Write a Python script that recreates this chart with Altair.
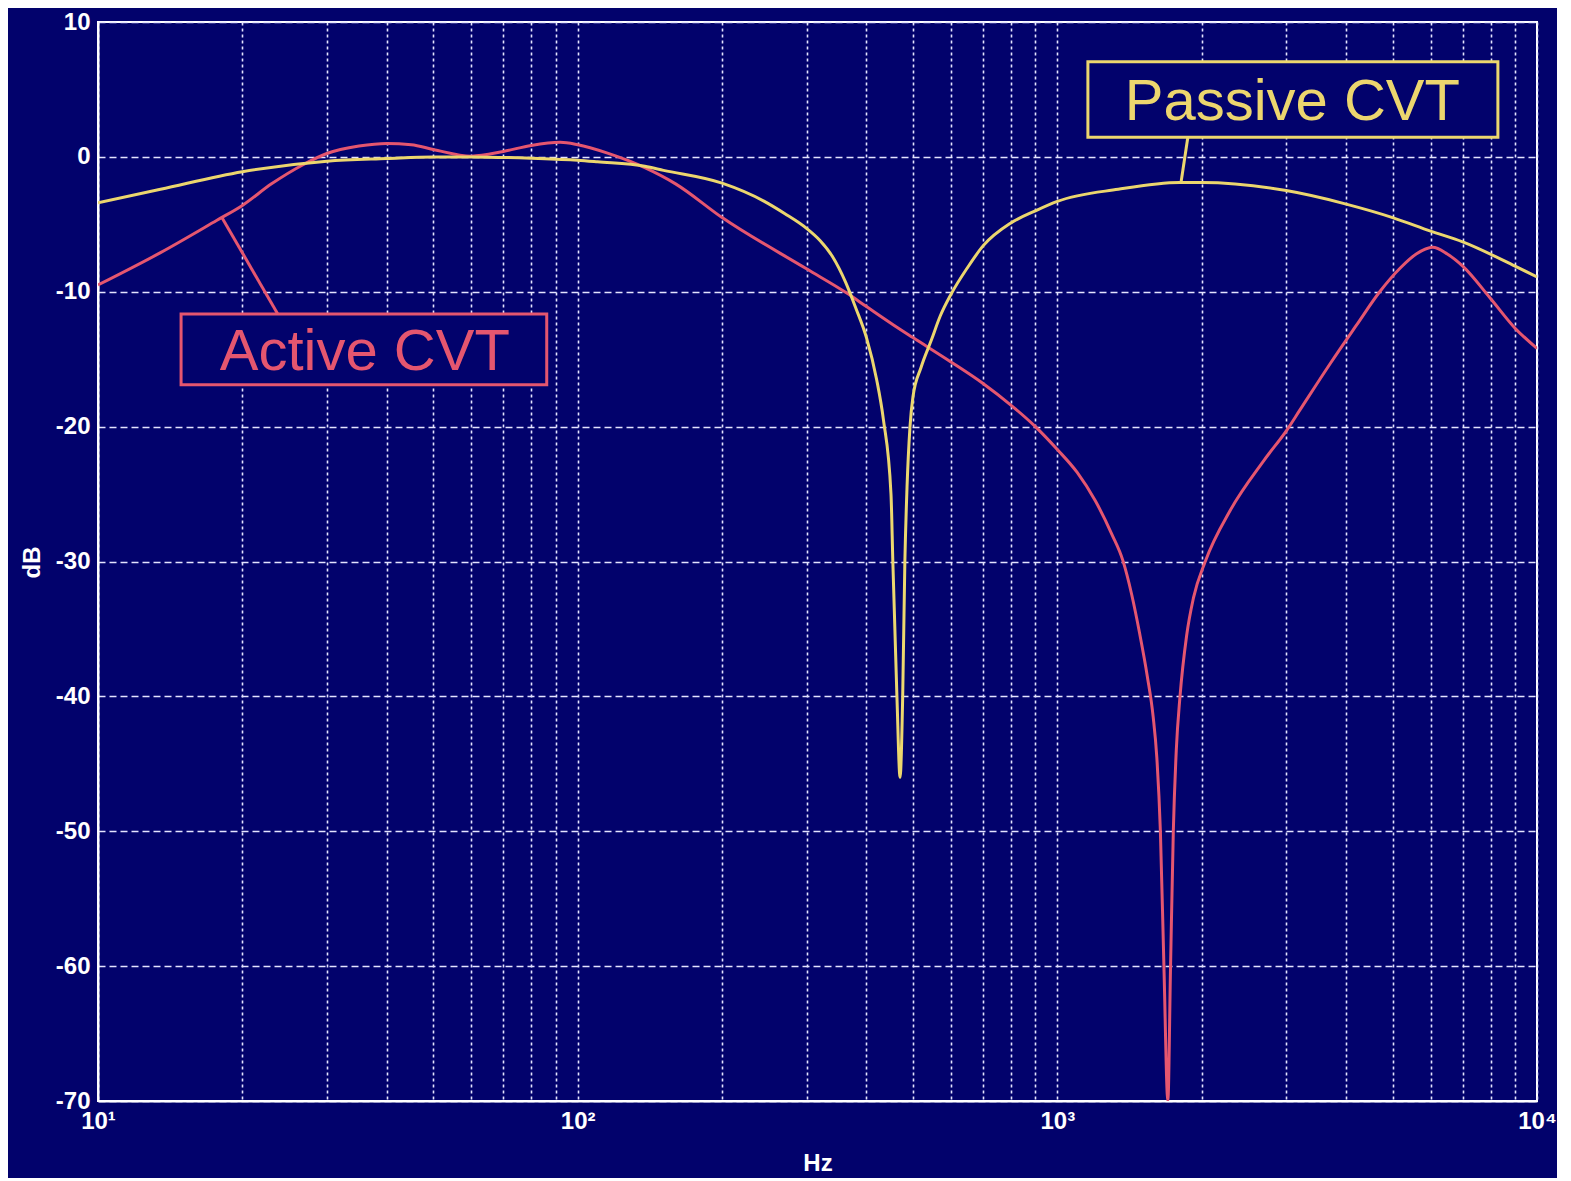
import altair as alt
import pandas as pd

# ---- data ----
passive_f = [10, 13.5, 20, 30, 40, 50, 60, 80, 100, 110, 138, 151, 200, 245, 270, 300, 320,
             340, 362, 380, 400, 420, 434, 450, 454, 463, 470, 476, 481, 486, 493, 500, 520,
             546, 570, 600, 650, 700, 800, 900, 1000, 1340, 1800, 2000, 3000, 4000, 5000,
             6000, 7000, 9000, 10000]
passive_db = [-3.4, -2.4, -1.1, -0.32, -0.12, 0.0, 0.0, -0.1, -0.25, -0.37, -0.7, -1.0, -1.95,
              -3.3, -4.2, -5.3, -6.2, -7.4, -9.3, -11.2, -13.4, -16.5, -19.5, -25.0, -30.0,
              -40.0, -46.0, -40.0, -30.0, -24.5, -20.0, -17.8, -15.6, -13.6, -11.8, -10.2,
              -8.2, -6.6, -4.9, -4.0, -3.3, -2.4, -1.9, -1.9, -2.5, -3.5, -4.5, -5.5, -6.3,
              -8.1, -8.9]

active_f = [10, 13.5, 17.7, 20, 23, 26.7, 30, 35, 40, 45, 50, 60, 70, 80, 92, 100, 115, 128,
            138, 160, 200, 300, 364, 400, 457, 500, 600, 700, 800, 900, 1000, 1100, 1200,
            1300, 1369, 1430, 1484, 1540, 1584, 1612, 1640, 1668, 1700, 1722, 1745, 1770,
            1802, 1860, 1922, 2034, 2294, 2697, 3017, 3200, 3710, 4200, 4700, 5200, 5600,
            6060, 6500, 7000, 8000, 9000, 10000]
active_db = [-9.5, -7.1, -4.7, -3.6, -2.0, -0.6, 0.25, 0.8, 1.0, 0.9, 0.55, 0.05, 0.4, 0.85,
             1.08, 0.9, 0.3, -0.3, -0.8, -2.0, -4.5, -8.3, -10.1, -11.1, -12.5, -13.4, -15.2,
             -16.8, -18.4, -20.0, -21.7, -23.4, -25.5, -28.0, -29.9, -32.5, -35.3, -38.5,
             -41.5, -44.5, -50.0, -60.0, -70.0, -60.0, -50.0, -44.0, -40.0, -35.5, -32.7,
             -30.0, -26.2, -22.5, -20.2, -18.8, -15.3, -12.5, -10.0, -8.2, -7.2, -6.7, -7.2,
             -8.1, -10.5, -12.7, -14.2]

series_names = ["Active CVT", "Passive CVT"]
x_tick_values = [10, 20, 30, 40, 50, 60, 70, 80, 90,
                 100, 200, 300, 400, 500, 600, 700, 800, 900,
                 1000, 2000, 3000, 4000, 5000, 6000, 7000, 8000, 9000, 10000]
y_tick_values = [-70, -60, -50, -40, -30, -20, -10, 0, 10]
x_tick_labels = {10: "10¹", 100: "10²", 1000: "10³", 10000: "10⁴"}

BG = "#02026C"
RED = "#E5566F"
YEL = "#ECD66E"
GRID = "#E4E4FF"
FONT = "Liberation Sans"

passive = pd.DataFrame({"f": passive_f, "db": passive_db})
active = pd.DataFrame({"f": active_f, "db": active_db})

xscale = alt.Scale(type="log", domain=[10, 10000], nice=False)
yscale = alt.Scale(domain=[-70, 10], nice=False)

label_expr = " : ".join(
    f"datum.value == {k} ? '{v}'" for k, v in x_tick_labels.items()
) + " : ''"

xaxis = alt.Axis(values=x_tick_values, labelExpr=label_expr, title="Hz",
                 gridDash=[3, 3], labelFlush=False, labelOverlap=False, labelBound=False,
                 labelPadding=8, titleY=62, titleBaseline="middle")
yaxis = alt.Axis(values=y_tick_values, labelExpr="'' + datum.value", title="dB",
                 gridDash=[7, 4], labelPadding=8,
                 titleX=-66, titleY=540, titleBaseline="middle", titleAlign="center")

base_red = alt.Chart(active).mark_line(color=RED, strokeWidth=3, clip=True,
                                       interpolate="monotone").encode(
    x=alt.X("f:Q", scale=xscale, axis=xaxis),
    y=alt.Y("db:Q", scale=yscale, axis=yaxis),
)
base_yel = alt.Chart(passive).mark_line(color=YEL, strokeWidth=3, clip=True,
                                        interpolate="monotone").encode(
    x=alt.X("f:Q", scale=xscale),
    y=alt.Y("db:Q", scale=yscale),
)

# annotations (positions in data coordinates)
ann = pd.DataFrame({
    "name": series_names,
    "bx": [14.9, 1158], "bx2": [86.2, 8288],
    "by": [-11.65, 7.06], "by2": [-16.9, 1.45],
    "tx": [36.0, 3090], "ty": [-15.8, 2.74],
    "lx": [18.1, 1810], "ly": [-4.45, -1.93],
    "lx2": [23.7, 1871], "ly2": [-11.65, 1.45],
})
color_enc = alt.Color("name:N", scale=alt.Scale(domain=series_names, range=[RED, YEL]),
                      legend=None)

connectors = alt.Chart(ann).mark_rule(strokeWidth=3).encode(
    x=alt.X("lx:Q", scale=xscale), x2="lx2:Q",
    y=alt.Y("ly:Q", scale=yscale), y2="ly2:Q",
    color=color_enc,
)
boxes = alt.Chart(ann).mark_rect(fill=BG, strokeWidth=3).encode(
    x=alt.X("bx:Q", scale=xscale), x2="bx2:Q",
    y=alt.Y("by:Q", scale=yscale), y2="by2:Q",
    stroke=alt.Stroke("name:N", scale=alt.Scale(domain=series_names, range=[RED, YEL]),
                      legend=None),
)
texts = alt.Chart(ann).mark_text(font=FONT, fontSize=58, align="center",
                                 baseline="alphabetic").encode(
    x=alt.X("tx:Q", scale=xscale),
    y=alt.Y("ty:Q", scale=yscale),
    text="name:N",
    color=color_enc,
)

chart = alt.layer(base_red, base_yel, connectors, boxes, texts).properties(
    width=1439, height=1079,
    autosize=alt.AutoSizeParams(type="none"),
    padding={"left": 90, "top": 14, "right": 20, "bottom": 77},
    background=BG,
).configure_view(
    stroke="white", strokeWidth=2,
).configure_axis(
    domainColor="white", domainWidth=2, grid=True, gridColor=GRID, gridWidth=1.6,
    gridOpacity=1, ticks=False, labelColor="white", labelFont=FONT, labelFontSize=24,
    labelFontWeight="bold", titleColor="white", titleFont=FONT, titleFontSize=24,
    titleFontWeight="bold",
)

chart.save("out.html", embed_options={"renderer": "svg", "actions": False})
